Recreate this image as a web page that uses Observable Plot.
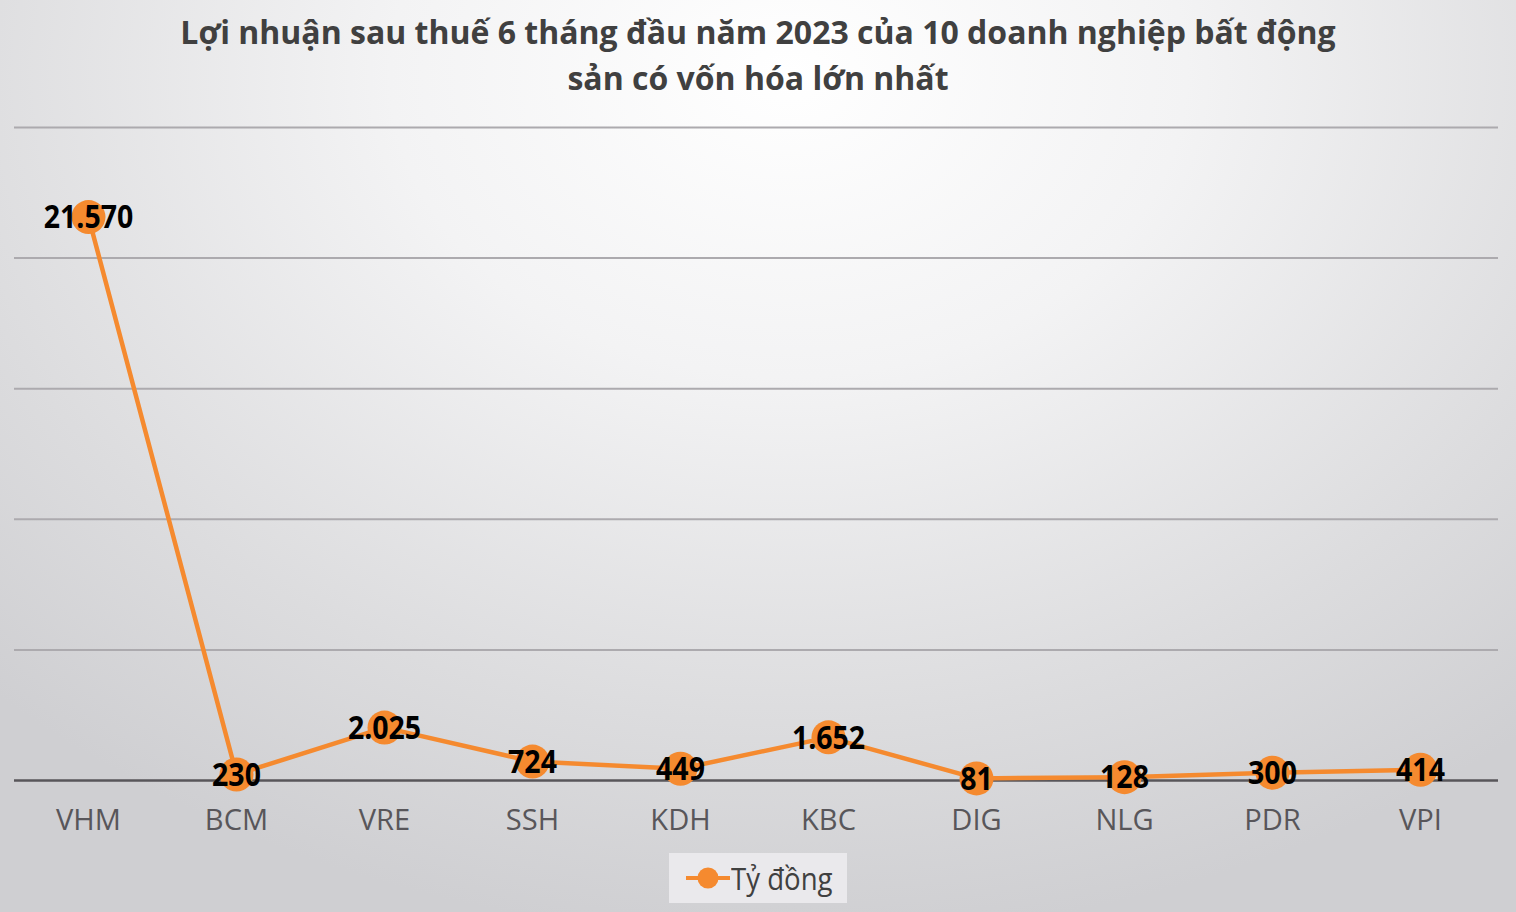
<!DOCTYPE html>
<html>
<head>
<meta charset="utf-8">
<script src="https://cdn.jsdelivr.net/npm/d3@7"></script>
<script src="https://cdn.jsdelivr.net/npm/@observablehq/plot@0.6"></script>
<style>
  html, body { margin: 0; padding: 0; }
  body {
    width: 1516px; height: 912px; overflow: hidden;
    background: radial-gradient(ellipse 75% 95% at 52% 8%, #ffffff 0%, #f3f3f4 35%, #dcdcde 75%, #cfcfd2 100%);
    font-family: "Open Sans", sans-serif;
  }
  #title {
    height: 112px; box-sizing: border-box; padding-top: 9px;
    text-align: center; font-weight: bold; font-size: 32px; line-height: 46px; color: #404040;
  }
  #title span { display: inline-block; white-space: nowrap; }
  #chart svg { display: block; background: transparent; }
  #legend { display: flex; justify-content: center; margin-top: 8px; }
  #legend .box {
    display: flex; align-items: center; width: 178px; height: 50px; box-sizing: border-box; padding-left: 16px;
    background: rgba(236,235,238,0.9); color: #404040; font-size: 31px;
  }
  #legend .txt { display: inline-block; transform: scaleX(0.89); transform-origin: 0 50%; white-space: nowrap; }
</style>
</head>
<body>
<div id="title"><span>Lợi nhuận sau thuế 6 tháng đầu năm 2023 của 10 doanh nghiệp bất động</span><br><span>sản có vốn hóa lớn nhất</span></div>
<div id="chart"></div>
<div id="legend"><div class="box"><svg width="46" height="24"><line x1="1" y1="12" x2="45" y2="12" stroke="#f58a2f" stroke-width="4"/><circle cx="23" cy="12" r="10.5" fill="#f58a2f"/></svg><span class="txt">Tỷ đồng</span></div></div>
<script>
const companies = ["VHM", "BCM", "VRE", "SSH", "KDH", "KBC", "DIG", "NLG", "PDR", "VPI"];
const profits = [21570, 230, 2025, 724, 449, 1652, 81, 128, 300, 414];
const labels = ["21.570", "230", "2.025", "724", "449", "1.652", "81", "128", "300", "414"];
const gridValues = [5000, 10000, 15000, 20000, 25000];
const seriesName = "Tỷ đồng";

const data = companies.map((c, i) => ({company: c, value: profits[i], label: labels[i]}));
const orange = "#f58a2f";

const chart = Plot.plot({
  width: 1516,
  height: 733,
  marginLeft: 14,
  marginRight: 22,
  marginTop: 15,
  marginBottom: 65,
  style: {fontFamily: '"Open Sans", sans-serif', background: "transparent", overflow: "visible"},
  x: {type: "point", domain: companies, padding: 0.5, label: null},
  y: {domain: [0, 25000], axis: null},
  marks: [
    Plot.ruleY(gridValues, {stroke: "#acaaae", strokeWidth: 2, insetRight: -4}),
    Plot.ruleY([0], {stroke: "#58565a", strokeWidth: 2.5, insetRight: -4}),
    Plot.axisX({tickSize: 0, tickPadding: 28, fontSize: 30, color: "#58565a", label: null}),
    Plot.line(data, {x: "company", y: "value", stroke: orange, strokeWidth: 4.5}),
    Plot.dot(data, {x: "company", y: "value", r: 17, fill: orange, stroke: "none"}),
    Plot.text(data, {x: "company", y: "value", text: "label", fontSize: 32, fontWeight: "bold", fill: "#000", textAnchor: "middle", dy: 1})
  ]
});

// condense text horizontally (the reference uses a narrow typeface)
function condense(sel, s) {
  chart.querySelectorAll(sel).forEach(t => {
    const tr = t.getAttribute("transform");
    if (tr) t.setAttribute("transform", tr + ` scale(${s},1)`);
  });
}
condense('g[aria-label="text"] text', 0.89);
condense('g[aria-label="x-axis tick label"] text', 0.97);
document.getElementById("chart").appendChild(chart);
</script>
</body>
</html>
